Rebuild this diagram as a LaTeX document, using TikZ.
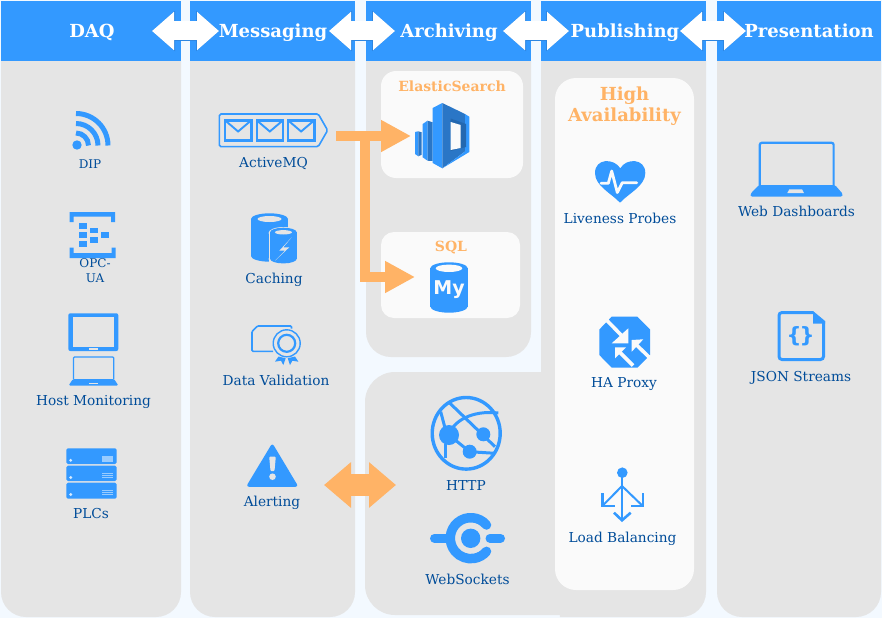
\documentclass[tikz,border=0pt]{standalone}
\usepackage{fontspec}
\setmainfont{DejaVu Serif}
\newfontfamily\logofont{DejaVu Sans}
\usepackage{xcolor}
\usetikzlibrary{arrows.meta}
\definecolor{pagebg}{HTML}{F3F9FF}
\definecolor{panelgray}{HTML}{E5E5E5}
\definecolor{boxwhite}{HTML}{FAFAFA}
\definecolor{hblue}{HTML}{3399FF}
\definecolor{hedge}{HTML}{2E86E0}
\definecolor{midblue}{HTML}{2A76C6}
\definecolor{darkblue}{HTML}{2468B0}
\definecolor{labelblue}{HTML}{004C99}
\definecolor{horange}{HTML}{FFB366}

\begin{document}
\begin{tikzpicture}[
    x=1pt, y=1pt, yscale=-1,
    panel/.style={fill=panelgray},
    innerbox/.style={fill=boxwhite},
    headbar/.style={fill=hblue},
    title/.style={text=white, inner sep=0pt, text height=13pt, text depth=0pt, font=\fontsize{18}{20}\selectfont\bfseries},
    boxtitle/.style={text=horange, inner sep=0pt, text height=10pt, text depth=0pt, font=\fontsize{14}{16}\selectfont\bfseries},
    hatitle/.style={text=horange, inner sep=0pt, text height=13.5pt, text depth=0pt, align=center, font=\fontsize{18}{21}\selectfont\bfseries},
    label/.style={text=labelblue, inner sep=0pt, text height=13pt, text depth=3pt, align=center, font=\fontsize{13.7}{16}\selectfont},
    smalllabel/.style={text=labelblue, inner sep=0pt, text height=11.5pt, text depth=2.9pt, align=center, font=\fontsize{12}{14.5}\selectfont},
    icon/.style={fill=hblue},
    iconline/.style={draw=hblue, line width=2pt},
    cutout/.style={fill=panelgray},
    linkarrow/.style={draw=white, line width=19pt, {Triangle[width=37pt,length=22pt]}-{Triangle[width=37pt,length=22pt]},
        preaction={draw=hedge, line width=20.5pt, {Triangle[width=39pt,length=23pt]}-{Triangle[width=39pt,length=23pt]}}},
    flow/.style={draw=horange, line width=10pt, -{Triangle[width=30pt,length=30pt]}},
    bigflow/.style={draw=horange, line width=22pt, {Triangle[width=44pt,length=27pt]}-{Triangle[width=44pt,length=27pt]}}
]
\useasboundingbox (0,0) rectangle (882,618);
\fill[pagebg] (0,0) rectangle (882,618);

\fill[panel] (1,61) [rounded corners=25pt] -- (1,617) -- (181,617) [sharp corners] -- (181,61) -- cycle;
\fill[panel] (190,61) [rounded corners=25pt] -- (190,617) -- (355,617) [sharp corners] -- (355,61) -- cycle;
\fill[panel] (366,61) [rounded corners=25pt] -- (366,357) -- (531,357) [sharp corners] -- (531,61) -- cycle;
\fill[panel] (600,372) [rounded corners=30pt] -- (365,372) -- (365,615) [sharp corners] -- (600,615) -- cycle;
\fill[panel] (541,61) -- (541,400) -- (560,617) [rounded corners=25pt] -- (706,617) [sharp corners] -- (706,61) -- cycle;
\fill[panel] (717,61) [rounded corners=25pt] -- (717,617) -- (881,617) [sharp corners] -- (881,61) -- cycle;

\fill[headbar] (1,1) rectangle (181,61);
\fill[headbar] (190,1) rectangle (355,61);
\fill[headbar] (366,1) rectangle (531,61);
\fill[headbar] (541,1) rectangle (706,61);
\fill[headbar] (717,1) rectangle (881,61);

\fill[innerbox, rounded corners=15pt] (381,71) rectangle (523,178);
\fill[innerbox, rounded corners=13pt] (381,232) rectangle (520,318);
\fill[innerbox, rounded corners=21pt] (555,78) rectangle (694,590);

\coordinate (linka) at (152,31);
\coordinate (linkb) at (219,31);
\coordinate (linkc) at (329,31);
\coordinate (linkd) at (395,31);
\coordinate (linke) at (503,31);
\coordinate (linkf) at (569,31);
\coordinate (linkg) at (680,31);
\coordinate (linkh) at (746,31);
\draw[linkarrow] (linka) -- (linkb);
\draw[linkarrow] (linkc) -- (linkd);
\draw[linkarrow] (linke) -- (linkf);
\draw[linkarrow] (linkg) -- (linkh);

\node[title] (daq) at (92,31) {DAQ};
\node[title] (messaging) at (273,31) {Messaging};
\node[title] (archiving) at (449,31) {Archiving};
\node[title] (publishing) at (625,31) {Publishing};
\node[title] (presentation) at (809,31) {Presentation};

\node[boxtitle] (elastic) at (452,86) {ElasticSearch};
\node[boxtitle] (sql) at (451,246) {SQL};
\node[hatitle] (ha) at (624.5,115) {High\\Availability};

% DIP
\fill[icon] (77,145) circle (4.7);
\draw[iconline, line width=5pt] (76,113.5) arc (-90:0:32);
\draw[iconline, line width=5pt] (76,123.5) arc (-90:0:22);
\draw[iconline, line width=5pt] (76,133) arc (-90:0:12.5);
\node[smalllabel] (dip) at (90,164) {DIP};

% OPC-UA
\fill[icon] (69.5,222) -- (69.5,212) -- (115,212) -- (115,222) -- (111,222) -- (111,216.5) -- (73.5,216.5) -- (73.5,222) -- cycle;
\fill[icon] (69.5,247.5) -- (69.5,258) -- (115.5,258) -- (115.5,247.5) -- (111.5,247.5) -- (111.5,253) -- (73.5,253) -- (73.5,247.5) -- cycle;
\fill[icon] (79,222.7) rectangle (87,228.7);
\fill[icon] (79,232) rectangle (87,238);
\fill[icon] (79,241) rectangle (87,247);
\fill[icon] (90,227.7) rectangle (98,233.3);
\fill[icon] (90,237) rectangle (98,243);
\fill[icon] (101.3,232) rectangle (109,238);
\node[smalllabel] (opcua) at (95,278) {OPC-\\UA};

% Host Monitoring
\fill[icon, rounded corners=2pt] (68.3,313.3) rectangle (118.3,351);
\fill[cutout] (72.7,317.3) rectangle (114.3,346.7);
\fill[cutout] (89.3,347.7) rectangle (97.7,349.7);
\draw[iconline, line width=1.2pt, rounded corners=1pt] (73.5,379.5) -- (73.5,357) -- (113.8,357) -- (113.8,379.5);
\fill[icon, rounded corners=1.5pt] (73,379) -- (114,379) -- (118.5,385.7) -- (68.5,385.7) -- cycle;
\fill[cutout] (88.7,383) rectangle (97.7,384.2);
\node[label] (host) at (93.5,400) {Host Monitoring};

% PLCs
\fill[icon, rounded corners=1.5pt] (66.3,448.3) rectangle (116.7,464);
\fill[icon, rounded corners=1.5pt] (66.3,465.7) rectangle (116.7,481);
\fill[icon, rounded corners=1.5pt] (66.3,482.7) rectangle (116.7,498.7);
\fill[white!50!hblue] (102,456) rectangle (113,462);
\foreach \y in {473,475,477,490,492,494} \fill[white!50!hblue] (102,\y) rectangle (113,\y+1.2);
\foreach \y in {460.3,477.5,494.5} \fill[white!80!hblue] (70.7,\y) circle (1.6);
\node[label] (plcs) at (91,513) {PLCs};

% ActiveMQ
\draw[iconline, line width=1.6pt, rounded corners=1.5pt] (318.3,114) -- (219.4,114) -- (219.4,146.6) -- (318.3,146.6) -- (327.6,130.3) -- cycle;
\foreach \x in {224,255.7,287} {
    \draw[iconline, line width=2.4pt] (\x+1,120.3) rectangle (\x+27.3,140.3);
    \draw[iconline, line width=1.9pt] (\x+1,120.3) -- (\x+14.1,131.5) -- (\x+27.3,120.3);
}
\node[label] (activemq) at (273.5,162) {ActiveMQ};

% Caching
\fill[icon] (251,219) rectangle (288,256);
\fill[icon] (269.5,256) ellipse (18.5 and 5.7);
\fill[icon] (269.5,219) ellipse (18.5 and 5.7);
\fill[cutout] (269.5,219) ellipse (12 and 3);
\fill[panelgray] (268.5,233) rectangle (298,264.5);
\fill[panelgray] (283.5,233) ellipse (15 and 6);
\fill[panelgray] (283.5,259) ellipse (15 and 6);
\fill[icon] (270,232.3) rectangle (296.7,258.8);
\fill[icon] (283.4,232.3) ellipse (13.3 and 4.6);
\fill[icon] (283.4,258.8) ellipse (13.3 and 4.6);
\fill[cutout] (283.4,232.3) ellipse (8.5 and 2.2);
\fill[cutout] (291.7,237.3) -- (279.3,250.7) -- (285,250.7) -- (275,260.7) -- (289.3,247.3) -- (283.3,247.3) -- cycle;
\node[label] (caching) at (274,278) {Caching};

% Data Validation
\draw[iconline, line width=1.6pt, rounded corners=1pt] (273,351.3) -- (252,351.3) -- (252,331.5) -- (257.5,326) -- (291.5,326) -- (291.5,328.5);
\fill[panelgray] (286.7,343.3) circle (15);
\draw[iconline, line width=1.4pt] (286.7,343.3) circle (13.5);
\draw[iconline, line width=2.2pt] (286.7,343.3) circle (8.5);
\fill[icon] (278.5,356.5) -- (275,361.7) -- (281,360.7) -- (283.3,365) -- (285.7,358.3) -- cycle;
\fill[icon] (295,356.5) -- (298.4,361.7) -- (292.4,360.7) -- (290,365) -- (287.7,358.3) -- cycle;
\node[label] (validation) at (276,380) {Data Validation};

% Alerting
\fill[icon, rounded corners=3pt] (272.3,443) -- (298.5,486.8) -- (246,486.8) -- cycle;
\fill[cutout, rounded corners=1pt] (269.2,456.7) -- (275.8,456.7) -- (274.5,471) -- (270.5,471) -- cycle;
\fill[cutout] (272.5,476.7) circle (3.3);
\node[label] (alerting) at (272,501) {Alerting};

% ElasticSearch
\fill[hblue] (415,132) -- (418.3,131.3) -- (418.3,156.3) -- (415,154) -- cycle;
\fill[midblue] (418.3,131.3) -- (421.7,132.3) -- (421.7,154.7) -- (418.3,156.3) -- cycle;
\fill[hblue] (422.7,124) -- (427.5,120.7) -- (427.5,160.7) -- (422.7,157.3) -- cycle;
\fill[midblue] (427.5,120.7) -- (432.7,122.3) -- (432.7,161) -- (427.5,160.7) -- cycle;
\fill[hblue] (432.7,108) -- (442.3,103) -- (442.3,168.3) -- (432.7,163) -- cycle;
\fill[midblue] (442.3,103) -- (465,114) -- (465,151.5) -- (442.3,168.3) -- cycle;
\fill[hblue] (465,114) -- (469.3,116.7) -- (469.3,152) -- (442.3,168.3) -- (465,151.5) -- cycle;
\fill[darkblue] (450.7,118.5) -- (466,124) -- (466,147) -- (450.7,151) -- cycle;
\fill[boxwhite] (450.7,122) -- (460.7,125) -- (460.7,148) -- (450.7,150) -- cycle;

% SQL
\fill[icon] (430.3,268.3) rectangle (467.7,306.5);
\fill[icon] (449,268.3) ellipse (18.7 and 6);
\fill[icon] (449,306.5) ellipse (18.7 and 6.2);
\fill[boxwhite] (449,268.3) ellipse (13.3 and 3.7);
\node[text=boxwhite, inner sep=0pt, font=\fontsize{19}{19}\selectfont\logofont\bfseries] (mylogo) at (449,290) {My};

% flows
\coordinate (mqout) at (336,136);
\coordinate (esin) at (411,136);
\coordinate (forka) at (365,136);
\coordinate (forkb) at (365,277);
\coordinate (sqlin) at (415,277);
\draw[flow] (mqout) -- (esin);
\draw[flow] (forka) -- (forkb) -- (sqlin);
\coordinate (alertend) at (324,485);
\coordinate (httpend) at (396,485);
\draw[bigflow] (alertend) -- (httpend);

% HTTP
\draw[iconline, line width=3.4pt] (466.2,433.3) ellipse (34 and 35.8);
\fill[icon] (449,435) circle (10);
\fill[icon] (483.3,434.3) circle (7);
\fill[icon] (469.7,451.7) circle (7);
\draw[iconline, line width=3pt] (450,403.3) -- (495,446.7);
\draw[iconline, line width=3pt] (449,435) .. controls (453,421) and (472,410) .. (498.3,413);
\draw[iconline, line width=3pt] (440.7,411.7) -- (445,428);
\draw[iconline, line width=3pt] (445,444) -- (445,458);
\draw[iconline, line width=3pt] (449,435) -- (469.7,451.7) -- (495,453.3);
\node[label] (http) at (466,485) {HTTP};

% WebSockets
\draw[iconline, line width=9pt, line cap=round] (434.5,538.3) -- (447,538.3);
\draw[iconline, line width=9pt, line cap=round] (490,538.3) -- (500.5,538.3);
\draw[iconline, line width=9.5pt, line cap=round] (486.5,525) arc (-40:-320:20.5);
\fill[icon] (470.7,538.3) circle (9.7);
\node[label] (websockets) at (467.5,579) {WebSockets};

% Liveness Probes
\fill[icon] (620.3,168.3) .. controls (614,158) and (595,158) .. (595,173) .. controls (595,186) and (611,193) .. (620,202.7) .. controls (629,193) and (645.3,186) .. (645.3,173) .. controls (645.3,158) and (626,158) .. cycle;
\draw[draw=boxwhite, line width=2.8pt, line cap=round, line join=round] (601,183.3) -- (608.3,183.3) -- (611.7,171) -- (617.3,192.5) -- (622.3,182.7) -- (636.7,182.7);
\node[label] (liveness) at (620,218) {Liveness Probes};

% HA Proxy
\fill[icon] (611.7,316.7) -- (637.3,316.7) -- (650,329.5) -- (650,355) -- (637.3,367.7) -- (611.7,367.7) -- (599.3,355) -- (599.3,329.5) -- cycle;
\fill[boxwhite] (628.3,343.3) -- (628.3,328.3) -- (611.7,343.3) -- cycle;
\fill[boxwhite] (631.7,340) -- (631.7,351.7) -- (643.3,339.3) -- cycle;
\fill[boxwhite] (615,347.3) -- (615,358.3) -- (626,347.3) -- cycle;
\draw[draw=boxwhite, line width=3.6pt] (606.5,320) -- (624,338);
\draw[draw=boxwhite, line width=3.6pt] (635,343.5) -- (650,358);
\draw[draw=boxwhite, line width=3.6pt] (618.5,351) -- (633,365.5);
\node[label] (haproxy) at (624,382) {HA Proxy};

% Load Balancing
\fill[icon] (622.3,472.7) circle (5.3);
\draw[iconline, line width=2pt] (622,476) -- (622,520);
\draw[iconline, line width=2pt] (603.3,505) -- (622,486) -- (641.7,505);
\draw[iconline, line width=2.4pt] (602.5,493.3) -- (602.5,505.8) -- (615,505.8);
\draw[iconline, line width=2.4pt] (643,493.3) -- (643,505.8) -- (630.7,505.8);
\draw[iconline, line width=2.6pt] (614,512.7) -- (622,520.3) -- (630.7,512.7);
\node[label] (balancing) at (622.5,537) {Load Balancing};

% Web Dashboards
\draw[iconline, line width=2.2pt, rounded corners=2pt] (759.8,186) -- (759.8,142.8) -- (833.6,142.8) -- (833.6,186);
\fill[icon, rounded corners=1.5pt] (759,185) -- (835,185) -- (842.8,194) -- (842.3,196.7) -- (750.7,196.7) -- (750.3,194) -- cycle;
\fill[cutout] (789.3,189.3) -- (802,189.3) -- (804,193) -- (787.3,193) -- cycle;
\node[label] (dashboards) at (796.5,211) {Web Dashboards};

% JSON Streams
\draw[iconline, line width=3pt, rounded corners=3pt] (813,312.5) -- (779,312.5) -- (779,359.5) -- (823.5,359.5) -- (823.5,321);
\fill[icon] (813,311) -- (825,321) -- (825,323.5) -- (813,323.5) -- cycle;
\node[text=hblue, inner sep=0pt, font=\fontsize{21}{21}\selectfont\logofont\bfseries] (jsonbraces) at (800.5,336) {\{\hspace{-2pt}\}};
\node[label] (json) at (801,376) {JSON Streams};

\end{tikzpicture}
\end{document}
